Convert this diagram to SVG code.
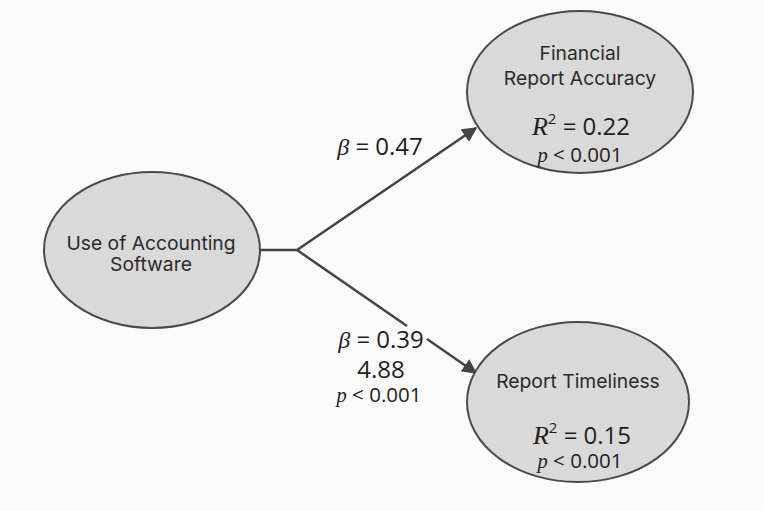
<svg xmlns="http://www.w3.org/2000/svg" width="764" height="511" viewBox="0 0 764 511">
<style>
.node{fill:#d9d9d9;stroke:#4a4a4a;stroke-width:2}
.lbl{font-family:Inter,"Liberation Sans",sans-serif;font-size:19.3px;fill:#2a2a2a;text-anchor:middle}
.stat{font-family:"Open Sans","Noto Sans",sans-serif;font-size:24px;fill:#1e1e1e;text-anchor:middle}
.p{font-family:"Open Sans","Noto Sans",sans-serif;font-size:20.5px;fill:#1e1e1e;text-anchor:middle}
.it{font-family:"Liberation Serif",serif;font-style:italic}
.edge{stroke:#444;stroke-width:2.5;fill:none}
</style>
<defs>
<marker id="arr" viewBox="0 0 10 10" refX="9" refY="5" markerWidth="6" markerHeight="6" orient="auto" markerUnits="strokeWidth">
<path d="M0,0 L10,5 L0,10 z" fill="#444"/>
</marker>
</defs>
<rect width="764" height="511" fill="#fafafa"/>
<g id="connectors">
<path class="edge" d="M260,250 H297 L476,128" marker-end="url(#arr)"/>
<path class="edge" d="M297,250 L407,326"/>
<path class="edge" d="M427,339 L476,373" marker-end="url(#arr)"/>
<text class="stat" x="380" y="155"><tspan class="it">β</tspan> = 0.47</text>
<text class="stat" x="381" y="348"><tspan class="it">β</tspan> = 0.39</text>
<text class="stat" x="381" y="378">4.88</text>
<text class="p" x="379" y="402"><tspan class="it">p</tspan> &lt; 0.001</text>
</g>
<g id="use-of-accounting-software">
<ellipse class="node" cx="152" cy="250" rx="108" ry="78"/>
<text class="lbl" x="151" y="250">Use of Accounting</text>
<text class="lbl" x="151" y="271">Software</text>
</g>
<g id="financial-report-accuracy">
<ellipse class="node" cx="580" cy="92" rx="113" ry="81"/>
<text class="lbl" x="580" y="60">Financial</text>
<text class="lbl" x="580" y="85">Report Accuracy</text>
<text class="stat" x="581" y="135"><tspan class="it" font-size="26">R</tspan><tspan font-size="15" dy="-11">2</tspan><tspan dy="11"> = 0.22</tspan></text>
<text class="p" x="580" y="162"><tspan class="it">p</tspan> &lt; 0.001</text>
</g>
<g id="report-timeliness">
<ellipse class="node" cx="578" cy="402" rx="111" ry="80"/>
<text class="lbl" x="578" y="388">Report Timeliness</text>
<text class="stat" x="582" y="444"><tspan class="it" font-size="26">R</tspan><tspan font-size="15" dy="-11">2</tspan><tspan dy="11"> = 0.15</tspan></text>
<text class="p" x="580" y="468"><tspan class="it">p</tspan> &lt; 0.001</text>
</g>
</svg>
